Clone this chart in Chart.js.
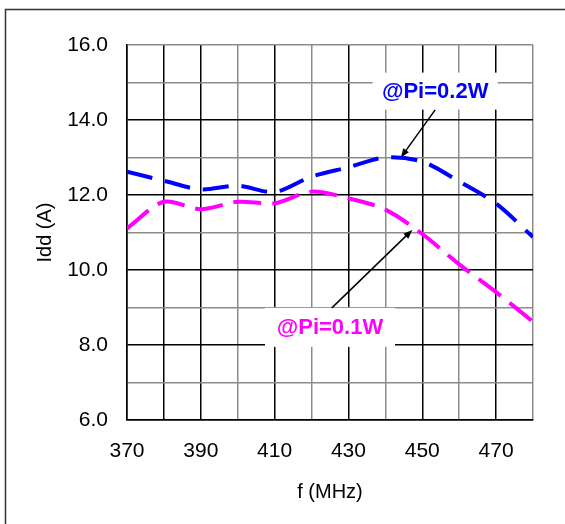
<!DOCTYPE html>
<html>
<head>
<meta charset="utf-8">
<script src="https://cdn.jsdelivr.net/npm/chart.js@4.4.1/dist/chart.umd.min.js"></script>
<style>
  html, body { margin: 0; padding: 0; background: #fff; }
  #wrap { width: 565px; height: 524px; }
</style>
</head>
<body>
<div id="wrap"><canvas id="chartCanvas" width="565" height="524"></canvas></div>
<script>
// ---------- DATA ----------
const freqs   = [370, 380, 390, 400, 410, 420, 430, 440, 450, 460, 470, 480];
const idd02W  = [12.62, 12.38, 12.15, 12.25, 12.08, 12.49, 12.74, 13.0, 12.89, 12.36, 11.77, 10.88];
const idd01W  = [11.11, 11.82, 11.62, 11.82, 11.78, 12.09, 11.91, 11.61, 10.96, 10.15, 9.41, 8.62];
const xTicks  = [370, 390, 410, 430, 450, 470];
const yTicks  = [6, 8, 10, 12, 14, 16];
const labels  = ["@Pi=0.2W", "@Pi=0.1W"];

const FONT = "Arial, 'Liberation Sans', sans-serif";
const BLACK = "#000000";
const GRAY = "#8c8c8c";

// callouts: text box centre + arrow from/to, all in data units
const callouts = [
  {text: labels[0], color: "#0000ff", box: {x: 453.5, y: 14.77, w: 125, h: 37},
   from: {x: 453.5, y: 14.27}, to: {x: 444.2, y: 13.0}},
  {text: labels[1], color: "#ff00ff", box: {x: 425, y: 8.47, w: 130, h: 39},
   from: {x: 425.5, y: 8.99}, to: {x: 447.3, y: 11.07}}
];

function series(ys){
  return freqs.map((f,i)=>({x:f, y:ys[i]}));
}

// white page + outer frame
const framePlugin = {
  id: "frame",
  beforeDraw(chart){
    const c = chart.ctx;
    c.save();
    c.fillStyle = "#fff";
    c.fillRect(0,0,chart.width,chart.height);
    c.strokeStyle = "#333";
    c.lineWidth = 1.5;
    c.strokeRect(5.5, 9.5, 700, 700);
    c.restore();
  }
};

function arrow(c, x1, y1, x2, y2){
  const a = Math.atan2(y2-y1, x2-x1);
  const len = 9, wid = 3.5;
  c.beginPath();
  c.moveTo(x1,y1);
  c.lineTo(x2 - Math.cos(a)*len*0.6, y2 - Math.sin(a)*len*0.6);
  c.stroke();
  c.beginPath();
  c.moveTo(x2,y2);
  c.lineTo(x2 - Math.cos(a)*len - Math.sin(a)*wid, y2 - Math.sin(a)*len + Math.cos(a)*wid);
  c.lineTo(x2 - Math.cos(a)*len + Math.sin(a)*wid, y2 - Math.sin(a)*len - Math.cos(a)*wid);
  c.closePath();
  c.fill();
}

// label boxes sit on top of the grid, arrows over the lines
const calloutPlugin = {
  id: "callouts",
  beforeDatasetsDraw(chart){
    const c = chart.ctx, xs = chart.scales.x, ys = chart.scales.y;
    c.save();
    callouts.forEach(o=>{
      const cx = xs.getPixelForValue(o.box.x), cy = ys.getPixelForValue(o.box.y);
      c.fillStyle = "#fff";
      c.fillRect(cx - o.box.w/2, cy - o.box.h/2, o.box.w, o.box.h);
    });
    c.restore();
  },
  afterDatasetsDraw(chart){
    const c = chart.ctx, xs = chart.scales.x, ys = chart.scales.y;
    c.save();
    callouts.forEach(o=>{
      c.strokeStyle = BLACK;
      c.fillStyle = BLACK;
      c.lineWidth = 1.5;
      arrow(c, xs.getPixelForValue(o.from.x), ys.getPixelForValue(o.from.y),
               xs.getPixelForValue(o.to.x), ys.getPixelForValue(o.to.y));
      c.fillStyle = o.color;
      c.font = "bold 22px " + FONT;
      c.textAlign = "center";
      c.textBaseline = "middle";
      c.fillText(o.text, xs.getPixelForValue(o.box.x), ys.getPixelForValue(o.box.y) + 1);
    });
    c.restore();
  }
};

new Chart(document.getElementById("chartCanvas"), {
  type: "line",
  data: {
    datasets: [
      {label: labels[0], data: series(idd02W), borderColor: "#0000ff", borderWidth: 4,
       borderDash: [26, 13], tension: 0.3, pointRadius: 0, fill: false},
      {label: labels[1], data: series(idd01W), borderColor: "#ff00ff", borderWidth: 4,
       borderDash: [28, 11], tension: 0.3, pointRadius: 0, fill: false}
    ]
  },
  options: {
    responsive: false,
    animation: false,
    layout: {padding: {top: 45, right: 32, left: 0, bottom: 0}},
    plugins: {legend: {display: false}, tooltip: {enabled: false}},
    scales: {
      x: {
        type: "linear", min: 370, max: 480,
        afterFit: s => { s.height = 104; },
        ticks: {
          stepSize: 10, autoSkip: false, maxRotation: 0, padding: 19,
          color: BLACK, font: {family: FONT, size: 21},
          callback: v => xTicks.includes(v) ? String(v) : ""
        },
        grid: {
          drawTicks: false,
          color: ctx => [400, 420, 440, 460, 480].includes(ctx.tick && ctx.tick.value) ? GRAY : BLACK,
          lineWidth: 1.5
        },
        border: {color: BLACK, width: 1.5},
        title: {display: true, text: "f (MHz)", color: BLACK,
                font: {family: FONT, size: 20}, padding: {top: 0, bottom: 20}}
      },
      y: {
        min: 6, max: 16,
        afterFit: s => { s.width = 127; },
        ticks: {
          stepSize: 1, padding: 19, color: BLACK, font: {family: FONT, size: 21},
          callback: v => yTicks.includes(v) ? v.toFixed(1) : ""
        },
        grid: {
          drawTicks: false,
          color: ctx => {
            const v = ctx.tick && ctx.tick.value;
            return (v % 2 === 1 || v === 16) ? GRAY : BLACK;
          },
          lineWidth: 1.5
        },
        border: {color: BLACK, width: 1.5},
        title: {display: true, text: "Idd (A)", color: BLACK,
                font: {family: FONT, size: 20}, padding: {top: 33, bottom: 0}}
      }
    }
  },
  plugins: [framePlugin, calloutPlugin]
});
</script>
</body>
</html>
